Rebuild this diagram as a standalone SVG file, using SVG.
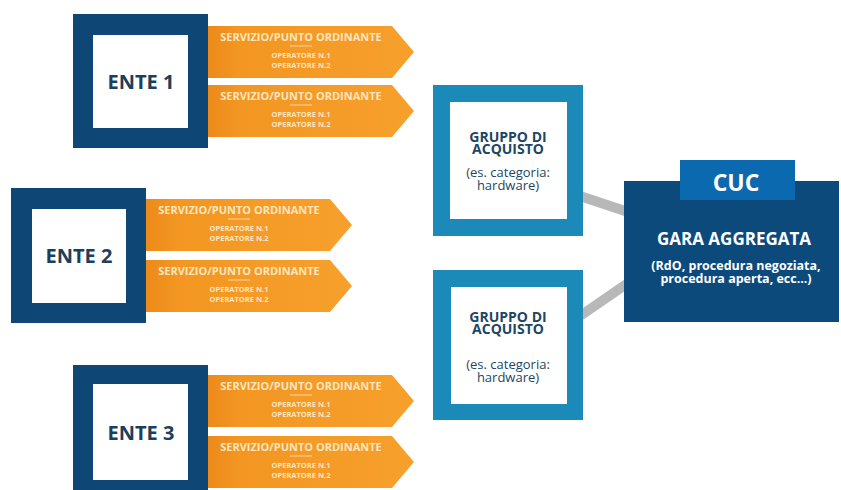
<svg xmlns="http://www.w3.org/2000/svg" xmlns:xlink="http://www.w3.org/1999/xlink" width="841" height="490" viewBox="0 0 841 490">
  <defs>
    <linearGradient id="og" x1="0" y1="0" x2="1" y2="0">
      <stop offset="0" stop-color="#ec8a1a"/>
      <stop offset="0.15" stop-color="#f39622"/>
      <stop offset="1" stop-color="#f7a02c"/>
    </linearGradient>
    <path id="arrow" d="M0,0 H184 L206,26 L184,52 H0 Z"/>
    <style>
      .ente { fill: #0e4675; }
      .inner { fill: #ffffff; }
      .enteT { font-family: "Open Sans", "Liberation Sans", sans-serif; font-weight: 700; font-size: 20px; fill: #1c3f5e; text-anchor: middle; }
      .arr { fill: url(#og); }
      .t1 { font-family: "Open Sans", "Liberation Sans", sans-serif; font-weight: 700; font-size: 11px; fill: #fde6c0; text-anchor: middle; }
      .t2 { font-family: "Open Sans", "Liberation Sans", sans-serif; font-weight: 700; font-size: 7.5px; fill: #fde6c0; text-anchor: middle; }
      .sep { stroke: #fde6c0; stroke-width: 0.8; }
      .grp { fill: #1b8ab8; }
      .gT { font-family: "Open Sans", "Liberation Sans", sans-serif; font-weight: 700; font-size: 14px; fill: #1e4664; text-anchor: middle; }
      .gS { font-family: "Open Sans", "Liberation Sans", sans-serif; font-weight: 400; font-size: 13px; fill: #1e4664; text-anchor: middle; }
      .conn { stroke: #b8b8b8; stroke-width: 10; fill: none; }
      .cucBox { fill: #0d4a7c; }
      .cucTab { fill: #0b69af; }
      .wT { font-family: "Open Sans", "Liberation Sans", sans-serif; font-weight: 700; fill: #ffffff; text-anchor: middle; }
    </style>
  </defs>
  <rect width="841" height="490" fill="#ffffff"/>

  <g id="connectors">
    <line class="conn" x1="580" y1="196" x2="628" y2="212"/>
    <line class="conn" x1="580" y1="316" x2="628" y2="283"/>
  </g>

  <g id="ente1">
    <rect class="ente" x="73" y="14" width="135" height="134"/>
    <rect class="inner" x="93" y="35" width="95" height="93"/>
    <text class="enteT" x="141" y="89">ENTE 1</text>
  </g>
  <g id="ente1-s1">
    <use xlink:href="#arrow" class="arr" x="208" y="26"/>
    <text class="t1" x="301" y="41">SERVIZIO/PUNTO ORDINANTE</text>
    <line class="sep" x1="290" y1="46" x2="312" y2="46"/>
    <text class="t2" x="301" y="58">OPERATORE N.1</text>
    <text class="t2" x="301" y="68">OPERATORE N.2</text>
  </g>
  <g id="ente1-s2">
    <use xlink:href="#arrow" class="arr" x="208" y="85"/>
    <text class="t1" x="301" y="100">SERVIZIO/PUNTO ORDINANTE</text>
    <line class="sep" x1="290" y1="105" x2="312" y2="105"/>
    <text class="t2" x="301" y="117">OPERATORE N.1</text>
    <text class="t2" x="301" y="127">OPERATORE N.2</text>
  </g>

  <g id="ente2">
    <rect class="ente" x="11" y="188" width="135" height="135"/>
    <rect class="inner" x="32" y="209" width="94" height="94"/>
    <text class="enteT" x="79" y="263">ENTE 2</text>
  </g>
  <g id="ente2-s1">
    <use xlink:href="#arrow" class="arr" x="146" y="199"/>
    <text class="t1" x="239" y="214">SERVIZIO/PUNTO ORDINANTE</text>
    <line class="sep" x1="228" y1="219" x2="250" y2="219"/>
    <text class="t2" x="239" y="231">OPERATORE N.1</text>
    <text class="t2" x="239" y="241">OPERATORE N.2</text>
  </g>
  <g id="ente2-s2">
    <use xlink:href="#arrow" class="arr" x="146" y="260"/>
    <text class="t1" x="239" y="275">SERVIZIO/PUNTO ORDINANTE</text>
    <line class="sep" x1="228" y1="280" x2="250" y2="280"/>
    <text class="t2" x="239" y="292">OPERATORE N.1</text>
    <text class="t2" x="239" y="302">OPERATORE N.2</text>
  </g>

  <g id="ente3">
    <rect class="ente" x="73" y="365" width="135" height="135"/>
    <rect class="inner" x="93" y="384" width="95" height="96"/>
    <text class="enteT" x="141" y="440">ENTE 3</text>
  </g>
  <g id="ente3-s1">
    <use xlink:href="#arrow" class="arr" x="208" y="375"/>
    <text class="t1" x="301" y="390">SERVIZIO/PUNTO ORDINANTE</text>
    <line class="sep" x1="290" y1="395" x2="312" y2="395"/>
    <text class="t2" x="301" y="407">OPERATORE N.1</text>
    <text class="t2" x="301" y="417">OPERATORE N.2</text>
  </g>
  <g id="ente3-s2">
    <use xlink:href="#arrow" class="arr" x="208" y="436"/>
    <text class="t1" x="301" y="451">SERVIZIO/PUNTO ORDINANTE</text>
    <line class="sep" x1="290" y1="456" x2="312" y2="456"/>
    <text class="t2" x="301" y="468">OPERATORE N.1</text>
    <text class="t2" x="301" y="478">OPERATORE N.2</text>
  </g>

  <g id="gruppo1">
    <rect class="grp" x="433" y="85" width="150" height="151"/>
    <rect class="inner" x="450" y="102" width="117" height="117"/>
    <text class="gT" x="508" y="142">GRUPPO DI</text>
    <text class="gT" x="508" y="154">ACQUISTO</text>
    <text class="gS" x="508" y="177">(es. categoria:</text>
    <text class="gS" x="508" y="190">hardware)</text>
  </g>
  <g id="gruppo2">
    <rect class="grp" x="433" y="270" width="150" height="150"/>
    <rect class="inner" x="451" y="287" width="116" height="117"/>
    <text class="gT" x="508" y="322">GRUPPO DI</text>
    <text class="gT" x="508" y="334">ACQUISTO</text>
    <text class="gS" x="508" y="369">(es. categoria:</text>
    <text class="gS" x="508" y="382">hardware)</text>
  </g>

  <g id="cuc">
    <rect class="cucBox" x="624" y="181" width="215" height="141"/>
    <rect class="cucTab" x="680" y="160" width="115" height="40"/>
    <text class="wT" x="736" y="191" font-size="23">CUC</text>
    <text class="wT" x="734" y="245" font-size="17">GARA AGGREGATA</text>
    <text class="wT" x="736" y="270" font-size="12.5">(RdO, procedura negoziata,</text>
    <text class="wT" x="736" y="283" font-size="12.5">procedura aperta, ecc...)</text>
  </g>
</svg>
